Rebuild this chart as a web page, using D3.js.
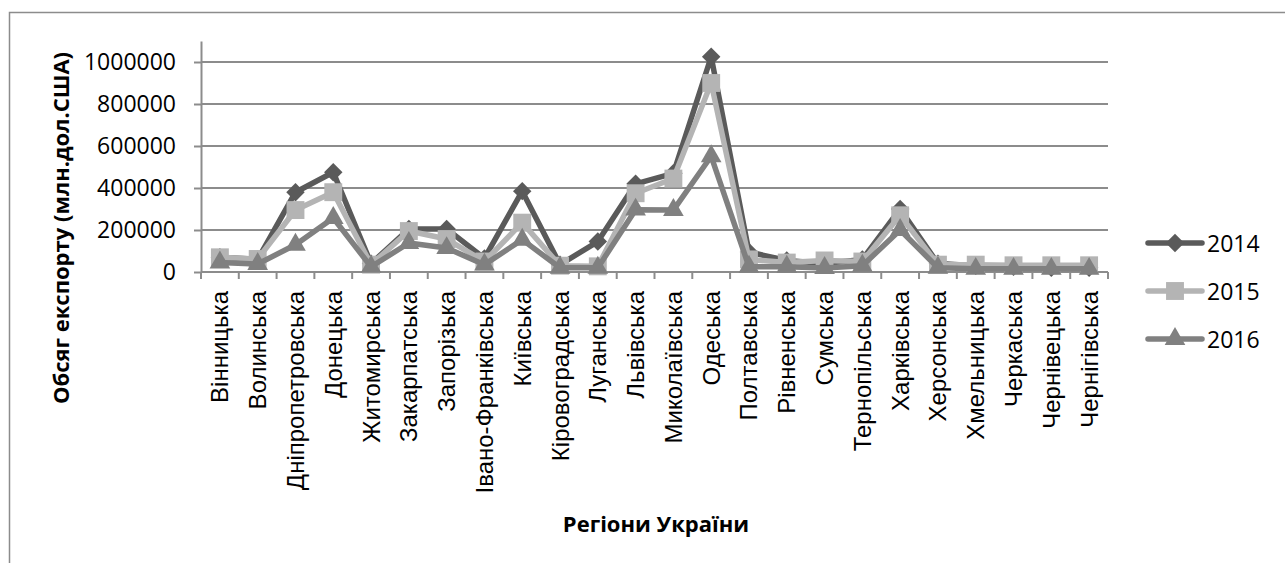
<!DOCTYPE html>
<html>
<head>
<meta charset="utf-8">
<script src="https://cdn.jsdelivr.net/npm/d3@7"></script>
<style>
  body { margin: 0; background: #fff; }
  svg { display: block; }
</style>
</head>
<body>
<div id="chart"></div>
<script>
// Data
const regions = ["Вінницька", "Волинська", "Дніпропетровська", "Донецька", "Житомирська",
  "Закарпатська", "Запорізька", "Івано-Франківська", "Київська", "Кіровоградська",
  "Луганська", "Львівська", "Миколаївська", "Одеська", "Полтавська", "Рівненська",
  "Сумська", "Тернопільська", "Харківська", "Херсонська", "Хмельницька", "Черкаська",
  "Чернівецька", "Чернігівська"];
const export2014 = [70000, 60000, 380000, 475000, 40000, 205000, 205000, 65000, 385000, 35000,
  145000, 420000, 470000, 1025000, 95000, 55000, 40000, 60000, 300000, 40000, 30000, 25000, 20000, 20000];
const export2015 = [70000, 62000, 295000, 380000, 35000, 195000, 157000, 50000, 235000, 30000,
  27000, 375000, 445000, 900000, 60000, 45000, 55000, 50000, 270000, 35000, 35000, 32000, 32000, 32000];
const export2016 = [45000, 38000, 130000, 257000, 25000, 138000, 114000, 35000, 154000, 20000,
  20000, 297000, 295000, 551000, 25000, 25000, 19000, 30000, 200000, 20000, 15000, 15000, 15000, 15000];
const yTicks = [0, 200000, 400000, 600000, 800000, 1000000];

const width = 1285;
const height = 563;

const series = [
  { name: "2014", values: export2014, color: "#5a5a5a", symbol: d3.symbolSquare, size: 170, rotate: 45 },
  { name: "2015", values: export2015, color: "#b4b4b4", symbol: d3.symbolSquare, size: 320, rotate: 0 },
  { name: "2016", values: export2016, color: "#808080", symbol: d3.symbolTriangle, size: 185, rotate: 0 }
];

const svg = d3.select("#chart")
  .append("svg")
  .attr("width", width)
  .attr("height", height);

// outer frame
svg.append("rect")
  .attr("x", 9.5)
  .attr("y", 12.5)
  .attr("width", 1290)
  .attr("height", 600)
  .attr("fill", "none")
  .attr("stroke", "#8c8c8c")
  .attr("stroke-width", 1.5);

const xScale = d3.scaleBand().domain(regions).range([201, 1108]).padding(0);
const yScale = d3.scaleLinear().domain([0, 1100000]).range([272, 41]);
const cx = d => xScale(d) + xScale.bandwidth() / 2;

// gridlines
svg.append("g")
  .selectAll("line")
  .data(yTicks.filter(d => d > 0))
  .join("line")
  .attr("x1", 201)
  .attr("x2", 1108)
  .attr("y1", d => yScale(d))
  .attr("y2", d => yScale(d))
  .attr("stroke", "#8c8c8c")
  .attr("stroke-width", 2);

// y axis
const yAxis = svg.append("g")
  .attr("transform", "translate(201,0)")
  .call(d3.axisLeft(yScale).tickValues(yTicks).tickSize(7).tickPadding(18).tickSizeOuter(0).tickFormat(d3.format("d")));
yAxis.select(".domain").attr("stroke", "#8c8c8c").attr("stroke-width", 2);
yAxis.selectAll(".tick line").attr("stroke", "#8c8c8c").attr("stroke-width", 2);
yAxis.selectAll(".tick text")
  .attr("fill", "#000")
  .style("font-family", "'Open Sans', sans-serif")
  .style("font-size", "23px");

// x axis with ticks between categories
svg.append("line")
  .attr("x1", 201).attr("x2", 1108)
  .attr("y1", yScale(0)).attr("y2", yScale(0))
  .attr("stroke", "#8c8c8c").attr("stroke-width", 2);

const boundaries = regions.map(d => xScale(d)).concat([xScale.range()[1]]);
svg.append("g")
  .selectAll("line")
  .data(boundaries)
  .join("line")
  .attr("x1", d => d).attr("x2", d => d)
  .attr("y1", yScale(0)).attr("y2", yScale(0) + 7)
  .attr("stroke", "#8c8c8c").attr("stroke-width", 2);

svg.append("g")
  .selectAll("text")
  .data(regions)
  .join("text")
  .attr("transform", d => `translate(${cx(d)},291) rotate(-90)`)
  .attr("text-anchor", "end")
  .attr("dominant-baseline", "central")
  .style("font-family", "'Liberation Sans', Arial, sans-serif")
  .style("font-size", "24px")
  .text(d => d);

// lines and markers
const line = d3.line()
  .x((d, i) => cx(regions[i]))
  .y(d => yScale(d));

series.forEach(s => {
  const g = svg.append("g");
  g.append("path")
    .datum(s.values)
    .attr("d", line)
    .attr("fill", "none")
    .attr("stroke", s.color)
    .attr("stroke-width", 5.5)
    .attr("stroke-linejoin", "round");
  g.selectAll("path.marker")
    .data(s.values)
    .join("path")
    .attr("class", "marker")
    .attr("d", d3.symbol().type(s.symbol).size(s.size))
    .attr("transform", (d, i) => `translate(${cx(regions[i])},${yScale(d)}) rotate(${s.rotate})`)
    .attr("fill", s.color);
});

// axis titles
svg.append("text")
  .attr("transform", "translate(60,228) rotate(-90)")
  .attr("text-anchor", "middle")
  .attr("dominant-baseline", "central")
  .style("font-family", "'Open Sans', sans-serif")
  .style("font-weight", "bold")
  .style("font-size", "22px")
  .text("Обсяг експорту (млн.дол.США)");

svg.append("text")
  .attr("x", 656)
  .attr("y", 523)
  .attr("text-anchor", "middle")
  .attr("dominant-baseline", "central")
  .style("font-family", "'Open Sans', sans-serif")
  .style("font-weight", "bold")
  .style("font-size", "22px")
  .text("Регіони України");

// legend
const legend = svg.append("g")
  .selectAll("g")
  .data(series)
  .join("g")
  .attr("transform", (d, i) => `translate(1148,${243 + i * 48})`);

legend.append("line")
  .attr("x1", 0).attr("x2", 54)
  .attr("stroke", d => d.color)
  .attr("stroke-width", 5.5)
  .attr("stroke-linecap", "round");

legend.append("path")
  .attr("d", d => d3.symbol().type(d.symbol).size(d.size)())
  .attr("transform", d => `translate(27,0) rotate(${d.rotate})`)
  .attr("fill", d => d.color);

legend.append("text")
  .attr("x", 59)
  .attr("dominant-baseline", "central")
  .style("font-family", "'Open Sans', sans-serif")
  .style("font-size", "23px")
  .text(d => d.name);
</script>
</body>
</html>
